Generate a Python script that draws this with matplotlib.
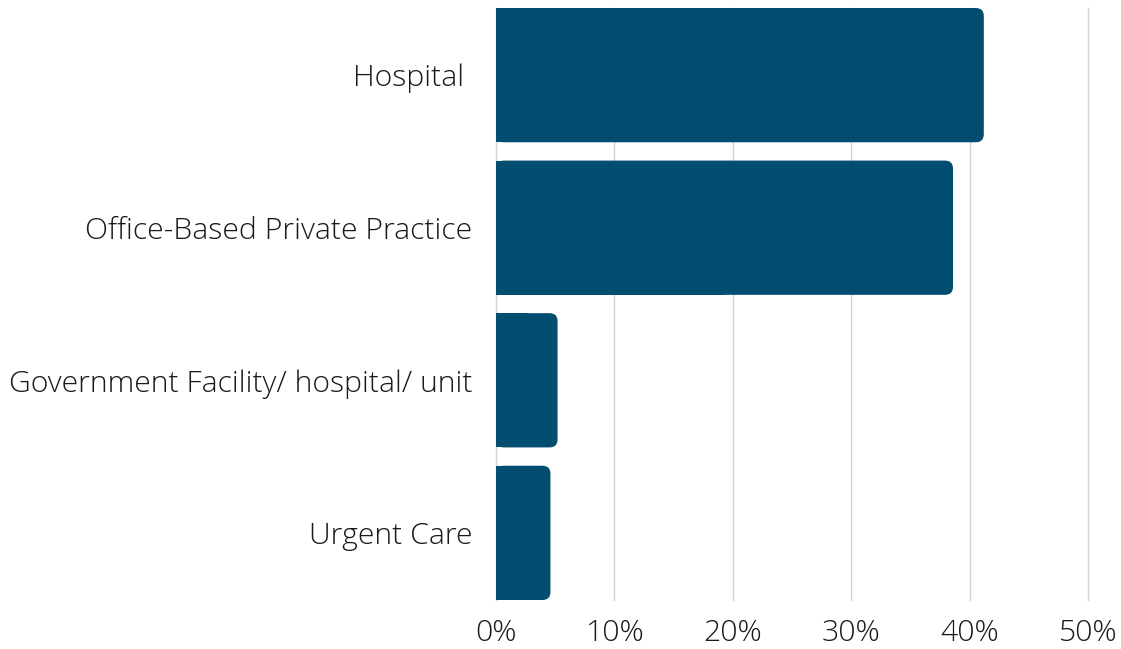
import matplotlib
matplotlib.use("Agg")
import matplotlib.pyplot as plt
from matplotlib.patches import FancyBboxPatch, Rectangle
from matplotlib.ticker import FuncFormatter

categories = ["Hospital ", "Office-Based Private Practice",
              "Government Facility/ hospital/ unit", "Urgent Care"]
values = [41.2, 38.6, 5.2, 4.6]
ticks = [0, 10, 20, 30, 40, 50]

bar_color = "#034E70"
plt.rcParams['font.family'] = ['Open Sans', 'DejaVu Sans']

fig = plt.figure(figsize=(11.21, 6.49), dpi=100)
ax = fig.add_axes([496 / 1121, 1 - 600 / 649, 592 / 1121, 592 / 649])

height = 0.88
ax.set_xlim(0, 50)
ax.set_ylim(len(categories) - 1 + height / 2, -height / 2)

# corner radius in pixels -> data units
r_px = 8
x_per_px = 50 / 592
y_per_px = (len(categories) - 1 + height) / 592
rx = r_px * x_per_px
aspect = y_per_px / x_per_px

for i, v in enumerate(values):
    y0 = i - height / 2
    ax.add_patch(FancyBboxPatch((0, y0), v, height,
                                boxstyle=f"round,pad=0,rounding_size={rx}",
                                mutation_aspect=aspect, fc=bar_color, ec="none", zorder=3))
    ax.add_patch(Rectangle((0, y0), v / 2, height, fc=bar_color, ec="none", zorder=3))

ax.set_yticks(range(len(categories)))
ax.set_yticklabels(categories)
ax.set_xticks(ticks)
ax.xaxis.set_major_formatter(FuncFormatter(lambda x, p: f"{x:.0f}%"))

ax.grid(axis='x', color='#d4d4d4', linewidth=1, zorder=0)
for gl in ax.get_xgridlines():
    gl.set_clip_on(False)
ax.set_axisbelow(True)
for s in ax.spines.values():
    s.set_visible(False)
ax.tick_params(axis='both', length=0, labelsize=21.7, labelcolor='#1a1a1a')
ax.tick_params(axis='y', pad=17)
ax.tick_params(axis='x', pad=13)
for lab in ax.get_xticklabels() + ax.get_yticklabels():
    lab.set_fontweight('light')

fig.savefig("out.png", dpi=100)
